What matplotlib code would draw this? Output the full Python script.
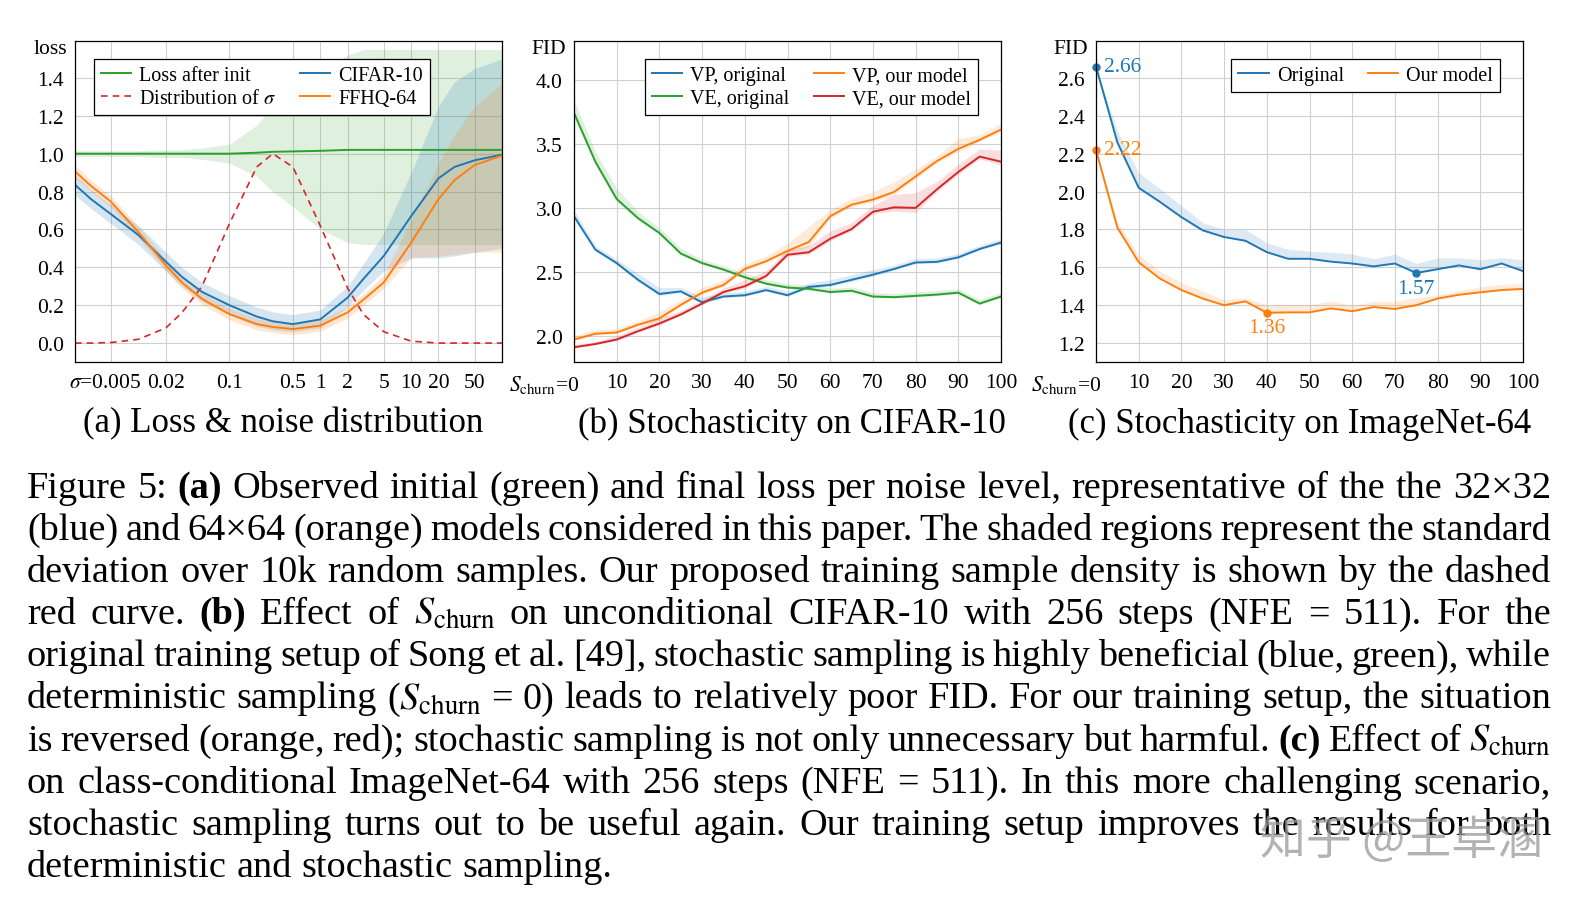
import matplotlib
matplotlib.use("Agg")
import matplotlib.pyplot as plt
import matplotlib.transforms as mtrans
import numpy as np

plt.rcParams['font.family'] = ['Liberation Serif', 'DejaVu Serif']
plt.rcParams['mathtext.fontset'] = 'stix'

C_BLUE, C_ORANGE, C_GREEN, C_RED = '#1f77b4', '#ff7f0e', '#2ca02c', '#d62728'

# ---------------- panel (a) data ----------------
sigma = [0.002, 0.003, 0.005, 0.01, 0.02, 0.03, 0.05, 0.1, 0.2, 0.3, 0.5, 1, 2, 3, 5, 10, 20, 30, 50, 100]
cifar = [0.836, 0.76, 0.68, 0.57, 0.43, 0.35, 0.27, 0.20, 0.14, 0.115, 0.10, 0.125, 0.24, 0.34, 0.46, 0.67, 0.87, 0.93, 0.965, 0.995]
cifar_hi = [0.89, 0.81, 0.73, 0.62, 0.48, 0.40, 0.32, 0.25, 0.19, 0.165, 0.15, 0.175, 0.30, 0.42, 0.58, 0.90, 1.25, 1.38, 1.45, 1.50]
cifar_lo = [0.78, 0.71, 0.63, 0.52, 0.38, 0.30, 0.22, 0.15, 0.09, 0.07, 0.06, 0.08, 0.19, 0.28, 0.38, 0.45, 0.45, 0.46, 0.48, 0.50]
ffhq = [0.906, 0.83, 0.745, 0.585, 0.41, 0.32, 0.233, 0.153, 0.10, 0.085, 0.074, 0.092, 0.162, 0.23, 0.32, 0.53, 0.76, 0.86, 0.94, 0.99]
ffhq_hi = [0.94, 0.86, 0.775, 0.615, 0.44, 0.35, 0.263, 0.183, 0.13, 0.115, 0.104, 0.122, 0.192, 0.26, 0.36, 0.65, 0.95, 1.10, 1.25, 1.37]
ffhq_lo = [0.87, 0.80, 0.715, 0.555, 0.38, 0.29, 0.203, 0.123, 0.07, 0.055, 0.044, 0.062, 0.132, 0.20, 0.29, 0.45, 0.46, 0.47, 0.48, 0.48]
init = [1, 1, 1, 1, 1, 1, 1, 1, 1.005, 1.01, 1.012, 1.015, 1.02, 1.02, 1.02, 1.02, 1.02, 1.02, 1.02, 1.02]
init_hi = [1.015, 1.015, 1.015, 1.015, 1.02, 1.02, 1.03, 1.05, 1.15, 1.25, 1.35, 1.45, 1.52, 1.55, 1.55, 1.55, 1.55, 1.55, 1.55, 1.55]
init_lo = [0.985, 0.985, 0.985, 0.985, 0.98, 0.98, 0.97, 0.95, 0.88, 0.80, 0.72, 0.60, 0.53, 0.52, 0.52, 0.52, 0.52, 0.52, 0.52, 0.52]
sigma_pdf = [0, 0, 0.003, 0.02, 0.08, 0.16, 0.30, 0.63, 0.93, 1.0, 0.93, 0.62, 0.29, 0.15, 0.06, 0.01, 0.0, 0, 0, 0]
a_ticks = [0.005, 0.02, 0.1, 0.5, 1, 2, 5, 10, 20, 50]
a_ticklabels = [r'$\sigma$=0.005', '0.02', '0.1', '0.5', '1', '2', '5', '10', '20', '50']

# ---------------- panel (b) data ----------------
s_b = list(range(0, 101, 5))
vp_orig = [2.935, 2.675, 2.57, 2.44, 2.33, 2.35, 2.265, 2.31, 2.32, 2.36, 2.32, 2.385, 2.40, 2.44, 2.48, 2.525, 2.575, 2.58, 2.615, 2.68, 2.73]
ve_orig = [3.74, 3.36, 3.07, 2.92, 2.805, 2.645, 2.57, 2.52, 2.46, 2.41, 2.38, 2.37, 2.345, 2.355, 2.31, 2.305, 2.315, 2.325, 2.34, 2.255, 2.31]
vp_ours = [1.975, 2.02, 2.03, 2.09, 2.14, 2.245, 2.34, 2.40, 2.525, 2.585, 2.665, 2.735, 2.935, 3.025, 3.065, 3.125, 3.245, 3.365, 3.46, 3.53, 3.61]
ve_ours = [1.915, 1.94, 1.975, 2.04, 2.10, 2.17, 2.255, 2.345, 2.39, 2.47, 2.635, 2.655, 2.76, 2.835, 2.97, 3.005, 3.0, 3.145, 3.28, 3.40, 3.36]
vp_orig_band = [0.05, 0.03, 0.03, 0.05, 0.05, 0.03, 0.04, 0.03, 0.03, 0.03, 0.03, 0.03, 0.04, 0.04, 0.04, 0.03, 0.03, 0.03, 0.03, 0.03, 0.03]
ve_orig_band = [0.1, 0.08, 0.08, 0.05, 0.04, 0.04, 0.03, 0.03, 0.03, 0.03, 0.03, 0.03, 0.03, 0.03, 0.03, 0.03, 0.03, 0.03, 0.03, 0.03, 0.03]
vp_ours_band = [0.03, 0.03, 0.03, 0.03, 0.05, 0.04, 0.04, 0.04, 0.04, 0.04, 0.06, 0.12, 0.05, 0.05, 0.06, 0.08, 0.06, 0.04, 0.08, 0.04, 0.05]
ve_ours_band = [0.02, 0.02, 0.03, 0.03, 0.04, 0.03, 0.03, 0.03, 0.05, 0.04, 0.04, 0.05, 0.06, 0.05, 0.05, 0.1, 0.12, 0.06, 0.06, 0.06, 0.09]
b_yticks = [2.0, 2.5, 3.0, 3.5, 4.0]

# ---------------- panel (c) data ----------------
s_c = list(range(0, 101, 5))
in_orig = [2.66, 2.26, 2.02, 1.945, 1.865, 1.795, 1.76, 1.74, 1.68, 1.645, 1.645, 1.63, 1.62, 1.605, 1.62, 1.57, 1.59, 1.61, 1.59, 1.62, 1.58]
in_orig_band = [0.0, 0.06, 0.08, 0.07, 0.06, 0.04, 0.04, 0.06, 0.05, 0.05, 0.04, 0.05, 0.05, 0.04, 0.05, 0.05, 0.06, 0.04, 0.05, 0.03, 0.06]
in_ours = [2.22, 1.81, 1.627, 1.54, 1.48, 1.435, 1.40, 1.42, 1.36, 1.362, 1.362, 1.383, 1.368, 1.39, 1.38, 1.40, 1.435, 1.455, 1.468, 1.48, 1.486]
in_ours_band = [0.0, 0.03, 0.04, 0.04, 0.04, 0.04, 0.03, 0.02, 0.04, 0.04, 0.04, 0.04, 0.03, 0.03, 0.04, 0.04, 0.02, 0.02, 0.03, 0.03, 0.03]
c_points = [(0, 2.66, C_BLUE), (0, 2.22, C_ORANGE), (75, 1.57, C_BLUE), (40, 1.36, C_ORANGE)]
c_yticks = [1.2, 1.4, 1.6, 1.8, 2.0, 2.2, 2.4, 2.6]
s_ticks = list(range(0, 101, 10))
s_ticklabels = [r'$S_{\mathrm{churn}}$=0'] + [str(v) for v in s_ticks[1:]]

W, H = 1593, 904
fig = plt.figure(figsize=(W / 100, H / 100), dpi=100)

def ax_at(left_px, top_px, right_px, bottom_px):
    return fig.add_axes([left_px / W, 1 - bottom_px / H, (right_px - left_px) / W, (bottom_px - top_px) / H])

TF = 15.5
LF = 14.5
def style(ax):
    ax.grid(True, color='#d0d0d0', lw=0.8)
    ax.set_axisbelow(True)
    ax.tick_params(length=0, labelsize=TF, pad=8)
    for s in ax.spines.values():
        s.set_linewidth(0.9)

def first_label_right(ax, shift_px):
    lab = ax.get_xticklabels()[0]
    lab.set_ha('right')
    lab.set_transform(lab.get_transform() + mtrans.ScaledTranslation(shift_px / 100, 0, fig.dpi_scale_trans))

def legend(ax, **kw):
    lg = ax.legend(ncol=2, fontsize=LF, frameon=True, fancybox=False, framealpha=1,
                   edgecolor='black', handlelength=1.5, handletextpad=0.4,
                   columnspacing=1.2, borderpad=0.35, labelspacing=0.2, **kw)
    lg.get_frame().set_linewidth(0.9)
    return lg

def ylab(ax, t):
    ax.text(-0.019, 0.978, t, transform=ax.transAxes, ha='right', va='center', fontsize=TF)

# panel (a)
ax = ax_at(75, 42, 502, 363)
style(ax)
ax.set_xscale('log')
ax.fill_between(sigma, init_lo, init_hi, color=C_GREEN, alpha=0.15, lw=0)
ax.fill_between(sigma, cifar_lo, cifar_hi, color=C_BLUE, alpha=0.18, lw=0)
ax.fill_between(sigma, ffhq_lo, ffhq_hi, color=C_ORANGE, alpha=0.18, lw=0)
ax.plot(sigma, init, color=C_GREEN, lw=1.4, label='Loss after init')
ax.plot(sigma, sigma_pdf, color=C_RED, lw=1.2, ls=(0, (4, 3)), label=r'Distribution of $\sigma$')
ax.plot(sigma, cifar, color=C_BLUE, lw=1.4, label='CIFAR-10')
ax.plot(sigma, ffhq, color=C_ORANGE, lw=1.4, label='FFHQ-64')
ax.set_xlim(0.002, 100)
ax.set_ylim(-0.1, 1.595)
ax.set_yticks(np.arange(0, 1.41, 0.2))
ax.set_yticklabels(['%.1f' % v for v in np.arange(0, 1.41, 0.2)])
ax.set_xticks(a_ticks)
ax.set_xticklabels(a_ticklabels)
ax.xaxis.set_minor_locator(matplotlib.ticker.NullLocator())
first_label_right(ax, 30)
legend(ax, loc='upper left', bbox_to_anchor=(0.02, 0.975))
ylab(ax, 'loss')

# panel (b)
ax = ax_at(574, 42, 1001, 363)
style(ax)
for y, b, c, lab in [(vp_orig, vp_orig_band, C_BLUE, 'VP, original'),
                     (ve_orig, ve_orig_band, C_GREEN, 'VE, original'),
                     (vp_ours, vp_ours_band, C_ORANGE, 'VP, our model'),
                     (ve_ours, ve_ours_band, C_RED, 'VE, our model')]:
    y = np.array(y); b = np.array(b)
    ax.fill_between(s_b, y - b * 0.3, y + b, color=c, alpha=0.15, lw=0)
    ax.plot(s_b, y, color=c, lw=1.4, label=lab)
ax.set_xlim(0, 100)
ax.set_ylim(1.8, 4.3)
ax.set_yticks(b_yticks)
ax.set_yticklabels(['%.1f' % v for v in b_yticks])
ax.set_xticks(s_ticks)
ax.set_xticklabels(s_ticklabels)
first_label_right(ax, 5)
legend(ax, loc='upper right', bbox_to_anchor=(0.97, 0.975))
ylab(ax, 'FID')

# panel (c)
ax = ax_at(1096, 42, 1523, 363)
style(ax)
for y, b, c, lab in [(in_orig, in_orig_band, C_BLUE, 'Original'),
                     (in_ours, in_ours_band, C_ORANGE, 'Our model')]:
    y = np.array(y); b = np.array(b)
    ax.fill_between(s_c, y, y + b, color=c, alpha=0.15, lw=0)
    ax.plot(s_c, y, color=c, lw=1.4, label=lab)
for x, y, c in c_points:
    ax.plot([x], [y], 'o', color=c, ms=5, clip_on=False)
for k, (dx, dy, va, ha) in enumerate([(6, 0, 'center', 'left'), (6, 0, 'center', 'left'),
                                      (0, -4, 'top', 'center'), (0, -4, 'top', 'center')]):
    x, y, c = c_points[k]
    ax.annotate('%.2f' % y, (x, y), xytext=(dx, dy), textcoords='offset points',
                color=c, fontsize=TF, va=va, ha=ha)
ax.set_xlim(0, 100)
ax.set_ylim(1.1, 2.795)
ax.set_yticks(c_yticks)
ax.set_yticklabels(['%.1f' % v for v in c_yticks])
ax.set_xticks(s_ticks)
ax.set_xticklabels(s_ticklabels)
first_label_right(ax, 5)
legend(ax, loc='upper right', bbox_to_anchor=(0.97, 0.975))
ylab(ax, 'FID')

# sub captions
SF = 25
for x, t in [(283, '(a) Loss & noise distribution'), (792, '(b) Stochasticity on CIFAR-10'),
             (1300, '(c) Stochasticity on ImageNet-64')]:
    fig.text(x / W, 1 - 424 / H, t, ha='center', va='center', fontsize=SF)

# caption, justified
S = r'$S_{\mathrm{churn}}$'
lines = [
    "Figure 5: **(a) Observed initial (green) and final loss per noise level, representative of the the 32×32",
    "(blue) and 64×64 (orange) models considered in this paper. The shaded regions represent the standard",
    "deviation over 10k random samples. Our proposed training sample density is shown by the dashed",
    "red curve. **(b) Effect of " + S + " on unconditional CIFAR-10 with 256 steps (NFE = 511). For the",
    "original training setup of Song et al. [49], stochastic sampling is highly beneficial (blue, green), while",
    "deterministic sampling (" + S + " = 0) leads to relatively poor FID. For our training setup, the situation",
    "is reversed (orange, red); stochastic sampling is not only unnecessary but harmful. **(c) Effect of " + S,
    "on class-conditional ImageNet-64 with 256 steps (NFE = 511). In this more challenging scenario,",
    "stochastic sampling turns out to be useful again. Our training setup improves the results for both",
    "deterministic and stochastic sampling.",
]
CF = 27.5
x0, x1 = 27, 1551
fig.canvas.draw()
r = fig.canvas.get_renderer()
for i, line in enumerate(lines):
    yb = 1 - (498 + i * 42.1) / H
    arts = []
    for w in line.split(' '):
        bold = w.startswith('**')
        w = w.lstrip('*')
        arts.append(fig.text(0, yb, w, fontsize=CF, va='baseline', ha='left',
                             fontweight='bold' if bold else 'normal'))
    widths = [a.get_window_extent(r).width for a in arts]
    if i < len(lines) - 1:
        gap = (x1 - x0 - sum(widths)) / (len(arts) - 1)
    else:
        gap = CF * 100 / 72 * 0.25
    x = x0
    for a, wd in zip(arts, widths):
        a.set_x(x / W)
        x += wd + gap

fig.text(1402 / W, 1 - 841 / H, '知乎 @王卓溷', fontsize=33, color='#999999', alpha=0.75,
         ha='center', va='center', family=['Noto Sans CJK SC', 'DejaVu Sans'])

fig.savefig('out.png', dpi=100)
